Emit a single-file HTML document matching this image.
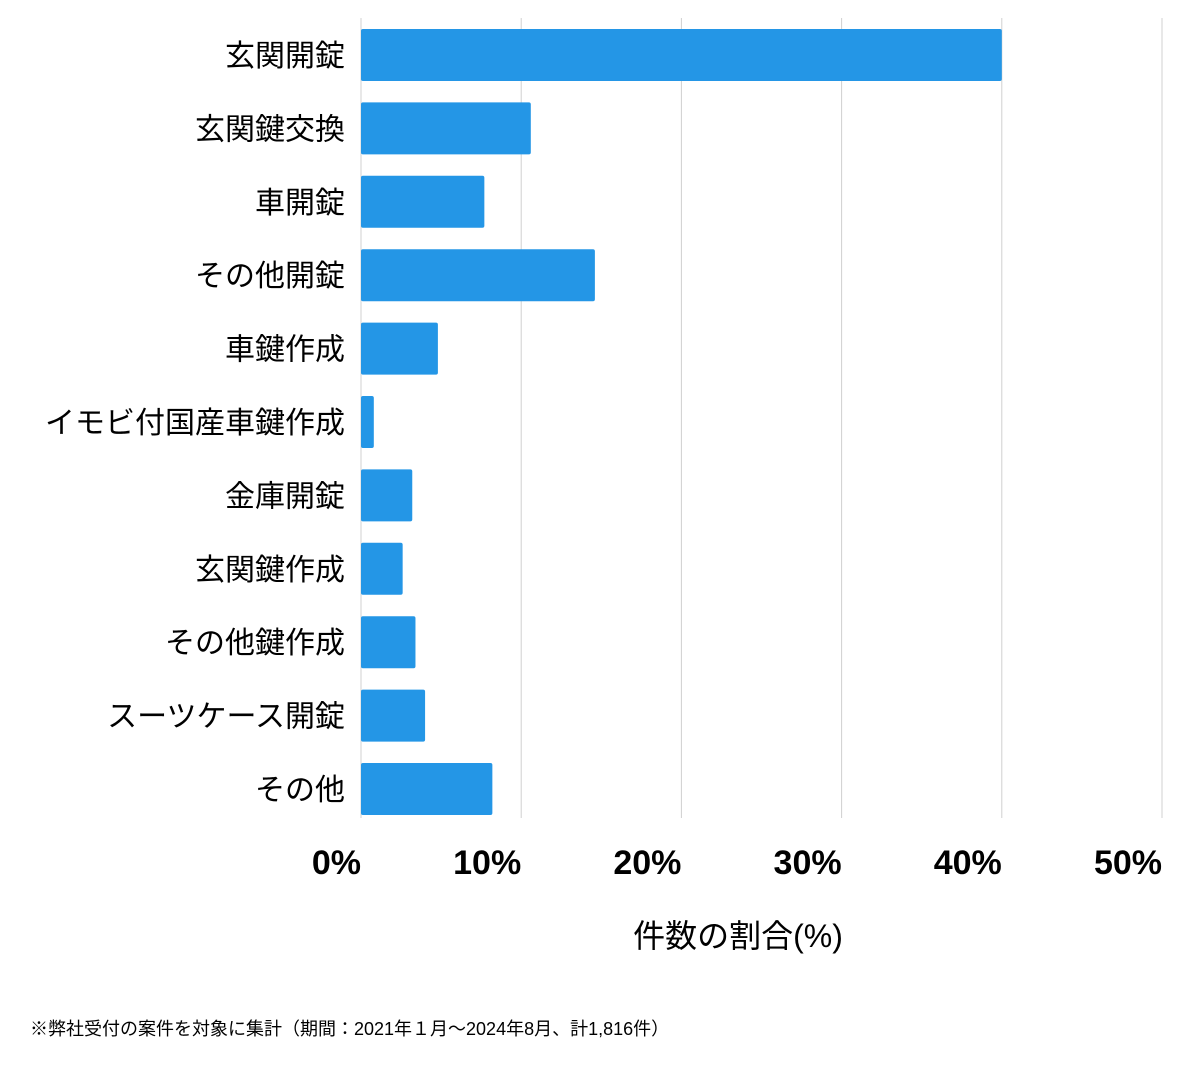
<!DOCTYPE html>
<html><head><meta charset="utf-8"><style>
body{margin:0;background:#fff;width:1200px;height:1069px;overflow:hidden;font-family:"Liberation Sans","Noto Sans CJK JP",sans-serif;}
</style></head><body>
<svg id="chart" width="1200" height="1069" xmlns="http://www.w3.org/2000/svg" style="font-family:'Liberation Sans','Noto Sans CJK JP',sans-serif"></svg>
<script>
const categories=["玄関開錠","玄関鍵交換","車開錠","その他開錠","車鍵作成","イモビ付国産車鍵作成","金庫開錠","玄関鍵作成","その他鍵作成","スーツケース開錠","その他"];
const values=[40.0,10.6,7.7,14.6,4.8,0.8,3.2,2.6,3.4,4.0,8.2];
const ticks=[0,10,20,30,40,50];
const tickLabels=["0%","10%","20%","30%","40%","50%"];
const svg=document.getElementById('chart');
const NS="http://www.w3.org/2000/svg";
const x0=361,x1=1162,barTop=29,step=73.4,bh=52;
const xs=v=>x0+(v/50)*(x1-x0);
function mk(t,a,txt){const e=document.createElementNS(NS,t);for(const k in a)e.setAttribute(k,a[k]);if(txt!=null)e.textContent=txt;svg.appendChild(e);return e;}
ticks.forEach((t,i)=>{
 const g=mk('line',{x1:xs(t),x2:xs(t),y1:18,y2:818,stroke:'#d0d0d0','stroke-width':1});
 
 
 const l=mk('text',{x:xs(t),y:874,'text-anchor':'end','font-size':34,'font-weight':'bold',fill:'#000'},tickLabels[i]);
 
 
});
categories.forEach((c,i)=>{
 const y=barTop+i*step;
 const r=mk('rect',{x:x0,y:y,width:xs(values[i])-x0,height:bh,fill:'#2496e6',rx:2});
 
 
 const t=mk('text',{x:345,y:y+bh/2+11,'text-anchor':'end','font-size':30,fill:'#000'},c);
 
 
});
const at=mk('text',{x:738,y:947,'text-anchor':'middle','font-size':32,fill:'#000'},'件数の割合(%)');


const fn=mk('text',{x:30,y:1035,'font-size':18,fill:'#000'},'※弊社受付の案件を対象に集計（期間：2021年１月〜2024年8月、計1,816件）');


</script>
</body></html>
